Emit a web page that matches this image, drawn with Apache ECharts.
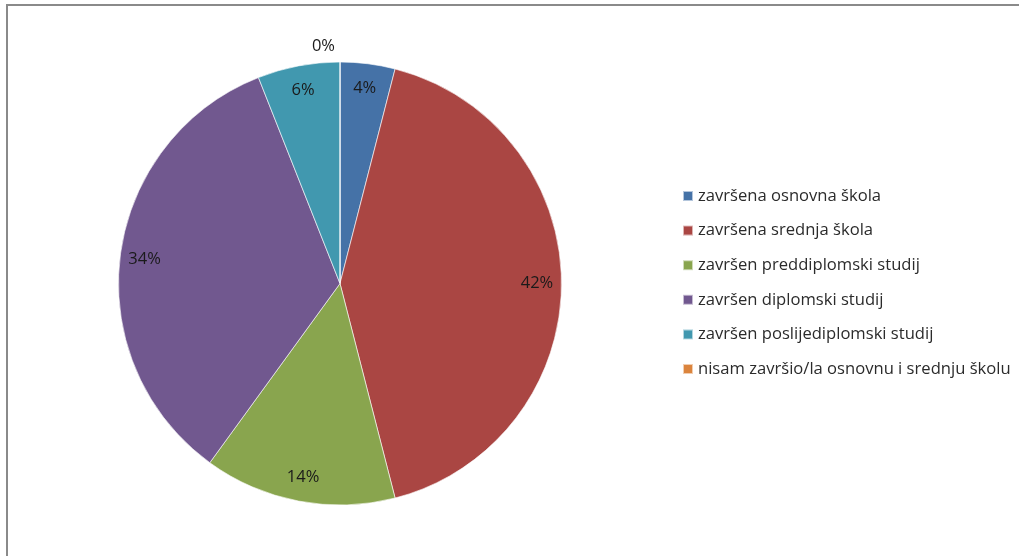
<!DOCTYPE html>
<html>
<head>
<meta charset="utf-8">
<title>Završeno obrazovanje</title>
<script src="https://cdn.jsdelivr.net/npm/echarts@6/dist/echarts.min.js"></script>
<style>
  html, body { margin: 0; padding: 0; background: #ffffff; }
  #chart { width: 1019px; height: 556px; }
</style>
</head>
<body>
<div id="chart"></div>
<script>
// Education levels and their shares (percent)
const categories = [
  'završena osnovna škola',
  'završena srednja škola',
  'završen preddiplomski studij',
  'završen diplomski studij',
  'završen poslijediplomski studij',
  'nisam završio/la osnovnu i srednju školu'
];
const shares = [4, 42, 14, 34, 6, 0];
const colors = ['#4572A7', '#AA4643', '#89A54E', '#71588F', '#4198AF', '#DB843D'];

const FONT = '"Open Sans"';
const CX = 340, CY = 283.5, R = 221.5;

const chart = echarts.init(document.getElementById('chart'), null, { renderer: 'canvas' });

const sliceData = categories.map((name, i) => ({ name, value: shares[i] }));

// label ring: transparent slices whose mid-radius sits near the outer edge
const labelData = categories.map((name, i) => {
  const item = { name, value: shares[i] };
  if (shares[i] === 0) {
    item.label = { position: 'outside', align: 'center' };
    item.labelLine = { show: false, length: 16, length2: 0 };
  }
  return item;
});

chart.setOption({
  backgroundColor: '#ffffff',
  color: colors,
  animation: false,
  graphic: [{
    type: 'rect',
    shape: { x: 7, y: 5, width: 1100, height: 700 },
    style: { fill: 'none', stroke: '#8a8a8a', lineWidth: 2 },
    silent: true,
    z: 0
  }],
  legend: {
    orient: 'vertical',
    left: 682,
    top: 186,
    padding: 0,
    itemWidth: 10,
    itemHeight: 10,
    itemGap: 14.6,
    icon: 'rect',
    selectedMode: false,
    data: categories,
    textStyle: { fontFamily: FONT, fontSize: 16.6, color: '#2b2b2b', lineHeight: 20 }
  },
  series: [
    {
      name: 'slices',
      type: 'pie',
      center: [CX, CY],
      radius: [0, R],
      startAngle: 90,
      clockwise: true,
      avoidLabelOverlap: false,
      label: { show: false },
      labelLine: { show: false },
      itemStyle: { borderColor: 'rgba(255,255,255,0.6)', borderWidth: 1 },
      emphasis: { disabled: true },
      data: sliceData
    },
    {
      name: 'labels',
      type: 'pie',
      center: [CX, CY],
      radius: [166.5, R],
      startAngle: 90,
      clockwise: true,
      avoidLabelOverlap: false,
      silent: true,
      itemStyle: { color: 'rgba(0,0,0,0)', borderWidth: 0 },
      emphasis: { disabled: true },
      label: {
        show: true,
        position: 'inside',
        fontFamily: FONT,
        fontSize: 16.5,
        color: '#1a1a1a',
        formatter: p => Math.round(p.value) + '%'
      },
      labelLine: { show: false, length: 16 },
      data: labelData
    }
  ]
});
</script>
</body>
</html>
